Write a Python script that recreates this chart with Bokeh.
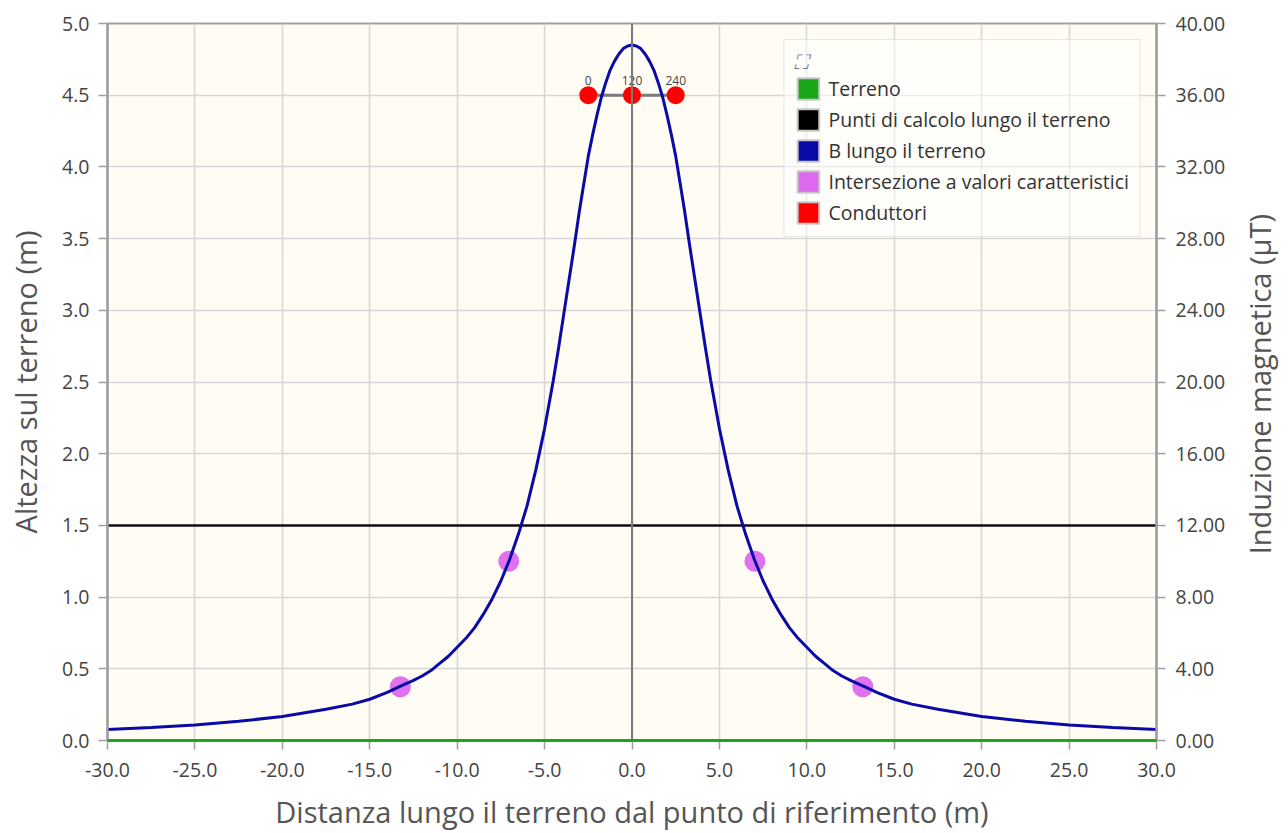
import math
from bokeh.plotting import figure
from bokeh.layouts import row
from bokeh.models import (Range1d, LinearAxis, SingleIntervalTicker, NumeralTickFormatter,
                          Legend, LegendItem, Span)
from bokeh.core.properties import value
from bokeh.embed import file_html
from bokeh.resources import INLINE

# ---------------- data ----------------
dist = [-30, -27.5, -25, -22.5, -20, -17.5, -16, -15, -14, -13.3, -12.5, -12, -11.5, -11, -10.5,
        -10, -9.5, -9, -8.5, -8, -7.5, -7, -6.5, -6, -5.5, -5, -4.5, -4.2, -3.9, -3.6, -3.3,
        -3.0, -2.75, -2.5, -2.25, -2.0, -1.75, -1.5, -1.25, -1.0, -0.75, -0.5, -0.25, 0,
        0.25, 0.5, 0.75, 1.0, 1.25, 1.5, 1.75, 2.0, 2.25, 2.5, 2.75, 3.0, 3.3, 3.6, 3.9,
        4.2, 4.5, 5, 5.5, 6, 6.5, 7, 7.5, 8, 8.5, 9, 9.5, 10, 10.5, 11, 11.5, 12, 12.5,
        13.3, 14, 15, 16, 17.5, 20, 22.5, 25, 27.5, 30]
b_field = [0.61, 0.72, 0.86, 1.07, 1.34, 1.74, 2.03, 2.3, 2.68, 3.0, 3.35, 3.6, 3.9, 4.3, 4.7,
           5.2, 5.7, 6.3, 7.05, 7.9, 8.9, 10.1, 11.5, 13.1, 15.1, 17.4, 20.1, 21.9, 23.8, 25.7,
           27.6, 29.6, 31.1, 32.6, 33.8, 34.9, 35.9, 36.7, 37.4, 37.9, 38.3, 38.6, 38.75, 38.8,
           38.75, 38.6, 38.3, 37.9, 37.4, 36.7, 35.9, 34.9, 33.8, 32.6, 31.1, 29.6, 27.6, 25.7,
           23.8, 21.9, 20.1, 17.4, 15.1, 13.1, 11.5, 10.1, 8.9, 7.9, 7.05, 6.3, 5.7, 5.2, 4.7,
           4.3, 3.9, 3.6, 3.35, 3.0, 2.68, 2.3, 2.03, 1.74, 1.34, 1.07, 0.86, 0.72, 0.61]

char_x = [-13.25, -7.05, 7.03, 13.2]
char_b = [3.0, 10.0, 10.0, 3.0]

cond_x = [-2.5, 0.0, 2.5]
cond_y = [4.5, 4.5, 4.5]
cond_labels = ["0", "120", "240"]

ground_x = [-30, 30]
ground_y = [0, 0]
calc_x = [-30, 30]
calc_y = [1.5, 1.5]

legend_labels = ["Terreno", "Punti di calcolo lungo il terreno", "B lungo il terreno",
                 "Intersezione a valori caratteristici", "Conduttori"]
legend_colors = ["#1aa81a", "#000000", "#0a0aa8", "#dd6aee", "#ff0000"]

right_title = "Induzione magnetica (µT)"

FONT = "Open Sans"
NAN = float("nan")

# ---------------- main figure ----------------
p = figure(width=1228, height=833, output_backend="svg", toolbar_location=None,
           x_range=Range1d(-30, 30), y_range=Range1d(0, 5),
           min_border_left=107, min_border_right=71, min_border_top=23, min_border_bottom=92)
p.extra_y_ranges = {"B": Range1d(0, 40)}

p.background_fill_color = "#fffcf4"
p.border_fill_color = "white"
p.outline_line_color = "#a0a0a0"
p.outline_line_width = 2

p.xgrid.ticker = SingleIntervalTicker(interval=5)
p.ygrid.ticker = SingleIntervalTicker(interval=0.5)
for g in (p.xgrid, p.ygrid):
    g.grid_line_color = "#d6d6d6"
    g.grid_line_width = 1.5

def style_axis(ax):
    ax.axis_line_color = "#a0a0a0"
    ax.axis_line_width = 2.5
    ax.major_tick_line_color = "#a0a0a0"
    ax.major_tick_line_width = 1.5
    ax.major_tick_out = 9
    ax.major_tick_in = 0
    ax.minor_tick_line_color = None
    ax.major_label_text_font = FONT
    ax.major_label_text_font_size = "19.5px"
    ax.major_label_text_color = "#444444"
    ax.axis_label_text_font = FONT
    ax.axis_label_text_font_size = "29px"
    ax.axis_label_text_font_style = "normal"
    ax.axis_label_text_color = "#555555"

xa = p.xaxis[0]
xa.ticker = SingleIntervalTicker(interval=5)
xa.formatter = NumeralTickFormatter(format="0.0")
xa.axis_label = "Distanza lungo il terreno dal punto di riferimento (m)"
style_axis(xa)
xa.major_label_standoff = 13
xa.axis_label_standoff = 12

ya = p.yaxis[0]
ya.ticker = SingleIntervalTicker(interval=0.5)
ya.formatter = NumeralTickFormatter(format="0.0")
ya.axis_label = "Altezza sul terreno (m)"
style_axis(ya)
ya.major_label_standoff = 9
ya.axis_label_standoff = 14

ra = LinearAxis(y_range_name="B", ticker=SingleIntervalTicker(interval=4),
                formatter=NumeralTickFormatter(format="0.00"))
style_axis(ra)
ra.major_label_standoff = 10
p.add_layout(ra, "right")

# ---------------- glyphs ----------------
p.line(x=calc_x, y=calc_y, line_color="#111111", line_width=2.5)
p.add_layout(Span(location=0, dimension="height", line_color="#7a7a7a", line_width=2))

p.line(x=cond_x, y=cond_y, line_color="#7a7a7a", line_width=3)

p.scatter(x=char_x, y=char_b, y_range_name="B", size=21, marker="circle",
          fill_color="#dd6aee", line_color=None, fill_alpha=0.95)
p.line(x=dist, y=b_field, y_range_name="B", line_color="#0a0aa8", line_width=3)

p.scatter(x=cond_x, y=cond_y, size=18, marker="circle", fill_color="#ff0000", line_color=None)
p.text(x=cond_x, y=cond_y, text=cond_labels, y_offset=-10, text_align="center",
       text_baseline="bottom", text_font=value(FONT), text_font_size="12px",
       text_color="#444444")

p.line(x=ground_x, y=ground_y, line_color="#1aa81a", line_width=3, level="overlay")

# ---------------- legend ----------------
items = []
for lab, col in zip(legend_labels, legend_colors):
    r = p.quad(left=[NAN], right=[NAN], top=[NAN], bottom=[NAN], fill_color=col,
               line_color="#c8c8c8", line_width=2)
    items.append(LegendItem(label=lab, renderers=[r]))

legend = Legend(items=items, location="top_right", margin=16,
                title="⛶", title_text_font="DejaVu Sans", title_text_font_size="20px",
                title_text_color="#777777", title_standoff=1,
                label_text_font=FONT, label_text_font_size="19.5px", label_text_color="#333333",
                glyph_width=27, glyph_height=27, spacing=4, padding=10, label_standoff=7,
                border_line_color="#cccccc", border_line_width=1.5,
                background_fill_color="white", background_fill_alpha=0.5)
p.add_layout(legend)

# ---------------- right-hand axis title (reads bottom-to-top) ----------------
p2 = figure(width=60, height=833, output_backend="svg", toolbar_location=None,
            x_range=Range1d(0, 1), y_range=Range1d(0, 1),
            x_axis_location=None, y_axis_location=None, min_border=0)
p2.outline_line_color = None
p2.background_fill_color = "white"
p2.border_fill_color = "white"
p2.grid.visible = False
p2.text(x=[0.517], y=[0.497], text=[right_title], angle=math.pi / 2,
        text_align="center", text_baseline="middle", text_font=value(FONT),
        text_font_size="29px", text_color="#555555")

layout = row(p, p2, spacing=0)
open("out.html", "w").write(file_html(layout, INLINE))
